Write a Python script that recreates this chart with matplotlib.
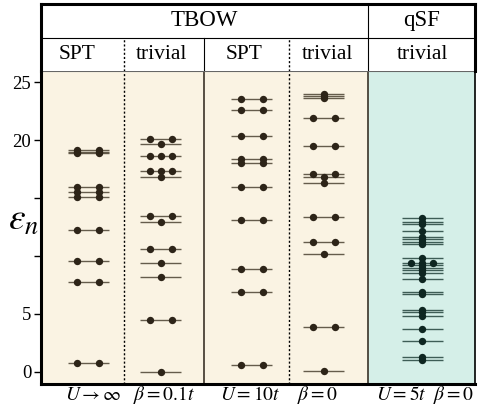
import matplotlib
matplotlib.use('Agg')
import matplotlib.pyplot as plt
from matplotlib.transforms import blended_transform_factory

plt.rcParams['font.family'] = ['Liberation Serif', 'DejaVu Serif']
plt.rcParams['mathtext.fontset'] = 'stix'

# energy levels of each column and how many dots sit on each level
spt_inf_levels = [0.73, 7.77, 9.59, 12.26, 15.09, 15.54, 15.98, 18.85, 19.0, 19.12]
spt_inf_dots = [2, 2, 2, 2, 2, 2, 2, 2, 2, 2]

triv_01_levels = [0.0, 4.44, 8.15, 9.41, 10.57, 12.9, 13.47, 16.85, 17.35, 18.63, 19.66, 20.07]
triv_01_dots = [1, 2, 1, 1, 2, 1, 2, 1, 3, 3, 1, 2]

spt_10_levels = [0.55, 6.91, 8.9, 13.07, 15.98, 18.05, 18.4, 20.33, 22.6, 23.55]
spt_10_dots = [2, 2, 2, 2, 2, 2, 2, 2, 2, 2]

triv_0_levels = [0.07, 3.89, 10.14, 11.2, 13.39, 16.32, 16.85, 17.05, 19.52, 21.9, 23.6, 23.8, 24.0]
triv_0_dots = [1, 2, 1, 2, 2, 1, 1, 2, 2, 2, 1, 1, 1]

qsf_levels = [1.01, 1.24, 2.65, 3.71, 4.84, 5.13, 5.33, 6.71, 6.86, 8.0, 8.55, 8.78,
              8.98, 9.21, 9.36, 9.79, 11.0, 11.23, 11.46, 11.66, 12.15, 12.73, 12.9, 13.25]
qsf_dots = [1, 1, 1, 1, 1, 1, 1, 1, 1, 1, 1, 1, 1, 1, 3, 1, 1, 1, 1, 1, 1, 1, 1, 1]

top_headers = ['TBOW', 'qSF']
sub_headers = ['SPT', 'trivial', 'SPT', 'trivial', 'trivial']
bottom_labels = [r'$U \rightarrow \infty$', r'$\beta = 0.1t$', r'$U = 10t$',
                 r'$\beta = 0$', r'$U = 5t\ \ \beta = 0$']
yticks = [0, 5, 10, 15, 20, 25]
ytick_labels = ['0', '5', '', '', '20', '25']

# layout (x in pixels from the left spine)
centers = [47, 119.5, 210.5, 282.5, 381]
dividers = [83, 163, 248, 327]
half_w = 20.5
dot_dx = 11
xmax = 434

beige = '#FAF3E3'
teal = '#D5EFE8'
tb_line = '#4b4232'
tb_dot = '#2d2418'
q_line = '#24433c'
q_dot = '#0e2621'

W, H = 479, 407
fig = plt.figure(figsize=(W / 100, H / 100), dpi=100)
ax = fig.add_axes([41 / W, 1 - 384 / H, xmax / W, 313 / H])
hd = fig.add_axes([41 / W, 1 - 71 / H, xmax / W, 67 / H])

ax.set_xlim(0, xmax)
ax.set_ylim(-1.06, 25.97)
ax.axvspan(0, dividers[3], color=beige, zorder=0)
ax.axvspan(dividers[3], xmax, color=teal, zorder=0)

columns = [(spt_inf_levels, spt_inf_dots), (triv_01_levels, triv_01_dots),
           (spt_10_levels, spt_10_dots), (triv_0_levels, triv_0_dots),
           (qsf_levels, qsf_dots)]
offsets = {1: [0], 2: [-dot_dx, dot_dx], 3: [-dot_dx, 0, dot_dx]}

for i, (levels, dots) in enumerate(columns):
    c = centers[i]
    lc, dc = (q_line, q_dot) if i == 4 else (tb_line, tb_dot)
    ax.hlines(levels, c - half_w, c + half_w, color=lc, lw=1.0, alpha=0.85, zorder=2)
    for e, n in zip(levels, dots):
        xs = [c + o for o in offsets[n]]
        ax.plot(xs, [e] * len(xs), 'o', ms=5.3, color=dc, mec='none', zorder=3)

for j, d in enumerate(dividers):
    if j in (0, 2):
        ax.axvline(d, color='black', lw=1.0, ls=(0, (1.5, 1.5)), zorder=1)
    else:
        ax.axvline(d, color='#3a3228', lw=1.2, zorder=1)

ax.set_yticks(yticks)
ax.set_yticklabels(ytick_labels, fontsize=13.5)
ax.set_xticks([])
ax.tick_params(axis='y', direction='out', length=5, width=1, pad=2)
for s in ['left', 'bottom']:
    ax.spines[s].set_linewidth(2.2)
ax.spines['top'].set_linewidth(0.8)
ax.spines['top'].set_color('#666666')
ax.spines['right'].set_linewidth(1.2)

trans = blended_transform_factory(ax.transData, ax.transAxes)
label_x = [52.5, 123, 209, 277, 384]
for x, lab in zip(label_x, bottom_labels):
    ax.text(x, -0.036, lab, transform=trans, ha='center', va='center', fontsize=14)

fig.text(24 / W, 1 - 221 / H, r'$\varepsilon_n$', fontsize=27, ha='center', va='center')

# header table
hd.set_xlim(0, xmax)
hd.set_ylim(0, 2)
hd.set_xticks([])
hd.set_yticks([])
for s in ['left', 'top', 'right']:
    hd.spines[s].set_linewidth(2.2)
hd.spines['bottom'].set_visible(False)
hd.axhline(1, color='black', lw=0.8)
hd.plot([dividers[3], dividers[3]], [0, 2], color='black', lw=0.8)
hd.plot([dividers[1], dividers[1]], [0, 1], color='black', lw=0.8)
for d in (dividers[0], dividers[2]):
    hd.plot([d, d], [0, 1], color='black', lw=1.0, ls=(0, (1.5, 1.5)))
hd.text(dividers[3] / 2, 1.5, top_headers[0], ha='center', va='center', fontsize=16.5)
hd.text((dividers[3] + xmax) / 2, 1.5, top_headers[1], ha='center', va='center', fontsize=16.5)
sub_x = [36, 120, 203, 286.5, 381]
for x, lab in zip(sub_x, sub_headers):
    hd.text(x, 0.5, lab, ha='center', va='center', fontsize=15.5)

fig.savefig('out.png', dpi=100)
